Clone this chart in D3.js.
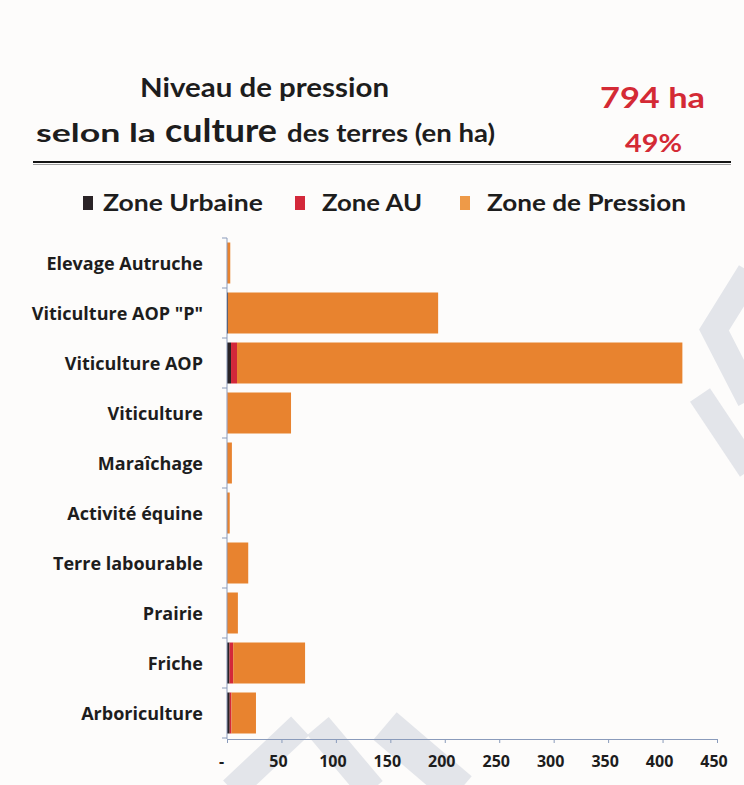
<!DOCTYPE html>
<html>
<head>
<meta charset="utf-8">
<script src="https://cdn.jsdelivr.net/npm/d3@7"></script>
<style>
  html, body { margin: 0; padding: 0; background: #fdfcfb; }
  svg { display: block; }
  text { font-family: "Open Sans", Lato, sans-serif; font-weight: 700; fill: #1d1d1d; }
  text.head { font-family: Lato, "Open Sans", sans-serif; }
</style>
</head>
<body>
<script>
// Cultures, top to bottom
const categories = [
  "Elevage Autruche", "Viticulture AOP \"P\"", "Viticulture AOP", "Viticulture",
  "Maraîchage", "Activité équine", "Terre labourable", "Prairie", "Friche", "Arboriculture"
];
// Surfaces (ha) per zone
const zoneUrbaine  = [0, 0.9, 3.7, 0, 0, 0, 0, 0, 2.3, 2.5];
const zoneAU       = [0, 0, 5.5, 0.3, 0, 0, 0, 0, 3.4, 1.6];
const zonePression = [3, 193, 409, 58.5, 4.5, 2.5, 19.5, 10, 66, 22.5];
const seriesNames  = ["Zone Urbaine", "Zone AU", "Zone de Pression"];
const xTicks       = [0, 50, 100, 150, 200, 250, 300, 350, 400, 450];
const totalLabel   = "794 ha";
const shareLabel   = "49%";

const W = 744, H = 785;
const colors = { "Zone Urbaine": "#2a2326", "Zone AU": "#d3283a", "Zone de Pression": "#e8832f" };

const svg = d3.select("body").append("svg").attr("width", W).attr("height", H);

// Pale chevron strokes of the page logo, behind the chart
const wm = svg.append("g").attr("fill", "none").attr("stroke", "#e3e5ea")
  .attr("stroke-linecap", "butt").attr("stroke-linejoin", "miter");
wm.append("path").attr("d", "M232,790 L300,726").attr("stroke-width", 26);
wm.append("path").attr("d", "M318,726 L372,790").attr("stroke-width", 28);
wm.append("path").attr("d", "M385,726 L460,790").attr("stroke-width", 36);
wm.append("path").attr("d", "M750,272 L714,330 L750,400").attr("stroke-width", 26);
wm.append("path").attr("d", "M700,395 L750,470").attr("stroke-width", 24);

// Title block; each piece is fitted to its width with textLength
function fitted(x, y, size, width, str, color) {
  return svg.append("text").attr("class", "head").attr("x", x).attr("y", y)
    .style("font-size", size + "px").style("fill", color || "#1d1d1d")
    .attr("textLength", width).attr("lengthAdjust", "spacingAndGlyphs").text(str);
}
fitted(140, 97, 26, 249, "Niveau de pression");
fitted(36, 142, 25, 120, "selon la");
fitted(165, 142, 33, 112, "culture");
fitted(287, 142, 25, 208, "des terres (en ha)");
fitted(600, 108, 29, 105, totalLabel, "#d42a35");
fitted(625, 152, 24, 57, shareLabel, "#d42a35");

svg.append("line").attr("x1", 33).attr("x2", 731).attr("y1", 162).attr("y2", 162)
  .attr("stroke", "#151515").attr("stroke-width", 2);
svg.append("line").attr("x1", 33).attr("x2", 731).attr("y1", 164.5).attr("y2", 164.5)
  .attr("stroke", "#a0a0a0").attr("stroke-width", 1);

// Legend
const legendItems = [
  { name: "Zone Urbaine", sq: 83, tx: 103, w: 160 },
  { name: "Zone AU", sq: 295, tx: 322, w: 100 },
  { name: "Zone de Pression", sq: 460, tx: 487, w: 199 }
];
legendItems.forEach(d => {
  svg.append("rect").attr("x", d.sq).attr("y", 196).attr("width", 10).attr("height", 14)
    .attr("fill", d.name === "Zone de Pression" ? "#ee9a48" : colors[d.name]);
  svg.append("text").attr("class", "head").attr("x", d.tx).attr("y", 211).style("font-size", "23px")
    .attr("textLength", d.w).attr("lengthAdjust", "spacingAndGlyphs").text(d.name);
});

// Scales
const x = d3.scaleLinear().domain([0, 450]).range([227, 717]);
const y = d3.scaleBand().domain(categories).range([238, 738]).paddingInner(0.18).paddingOuter(0.09);

const rows = categories.map((c, i) => ({
  cat: c, "Zone Urbaine": zoneUrbaine[i], "Zone AU": zoneAU[i], "Zone de Pression": zonePression[i]
}));
const stacked = d3.stack().keys(seriesNames)(rows);

svg.append("g").selectAll("g").data(stacked).join("g")
  .attr("fill", s => colors[s.key])
  .selectAll("rect").data(s => s).join("rect")
  .attr("x", d => x(d[0]))
  .attr("y", d => y(d.data.cat))
  .attr("width", d => Math.max(0, x(d[1]) - x(d[0])))
  .attr("height", y.bandwidth());

// Axes
const axisColor = "#8a9bbb";
const xAxis = svg.append("g").attr("transform", "translate(0,739)")
  .call(d3.axisBottom(x).tickValues(xTicks).tickSize(4).tickSizeOuter(0).tickPadding(13)
    .tickFormat(v => v === 0 ? "-" : d3.format("d")(v)));
xAxis.select(".domain").attr("stroke", axisColor);
xAxis.selectAll(".tick line").attr("stroke", axisColor);
xAxis.selectAll(".tick text").style("font-size", "16px").attr("fill", "#1d1d1d")
  .attr("dx", v => v === 0 ? "-6" : "-3.5");

// Category axis with ticks on band boundaries
const yAxis = svg.append("g").attr("transform", "translate(227,0)");
yAxis.append("line").attr("x1", 0).attr("x2", 0).attr("y1", 238).attr("y2", 739)
  .attr("stroke", axisColor);
d3.range(categories.length + 1).forEach(i => {
  const yy = y.range()[0] + i * y.step();
  yAxis.append("line").attr("x1", -5).attr("x2", 0).attr("y1", yy).attr("y2", yy)
    .attr("stroke", axisColor);
});
yAxis.selectAll("text.cat").data(categories).join("text").attr("class", "cat")
  .attr("x", -24).attr("y", d => y(d) + y.bandwidth() / 2 + 6.5)
  .attr("text-anchor", "end").style("font-size", "18px").text(d => d);
</script>
</body>
</html>
